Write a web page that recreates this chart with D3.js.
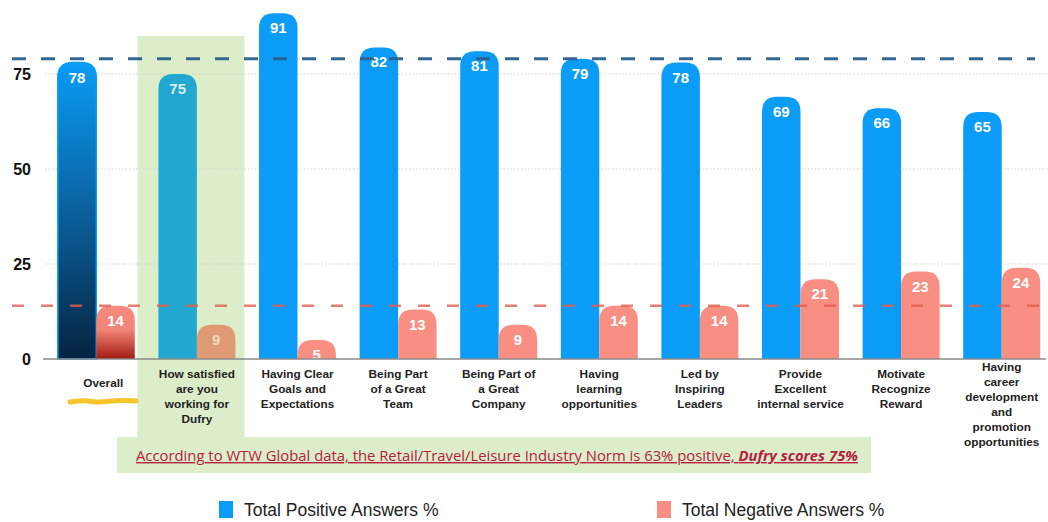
<!DOCTYPE html>
<html>
<head>
<meta charset="utf-8">
<script src="https://cdn.jsdelivr.net/npm/d3@7"></script>
<style>
  body { margin: 0; background: #fff; }
  svg { display: block; font-family: "Liberation Sans", Arial, sans-serif; }
</style>
</head>
<body>
<svg id="chart" width="1048" height="522"></svg>
<script>
// survey categories, one group of two bars each
const categories = [
    ['Overall'],
    ['How satisfied', 'are you', 'working for', 'Dufry'],
    ['Having Clear', 'Goals and', 'Expectations'],
    ['Being Part', 'of a Great', 'Team'],
    ['Being Part of', 'a Great', 'Company'],
    ['Having', 'learning', 'opportunities'],
    ['Led by', 'Inspiring', 'Leaders'],
    ['Provide', 'Excellent', 'internal service'],
    ['Motivate', 'Recognize', 'Reward'],
    ['Having', 'career', 'development', 'and', 'promotion', 'opportunities']
]
const positive = [78, 75, 91, 82, 81, 79, 78, 69, 66, 65]
const negative = [14, 9, 5, 13, 9, 14, 14, 21, 23, 24]
const seriesNames = ['Total Positive Answers %', 'Total Negative Answers %']
const yTicks = [0, 25, 50, 75]
const positiveNorm = 79
const negativeNorm = 14
const highlightIndex = 1
const noteText = 'According to WTW Global data, the Retail/Travel/Leisure Industry Norm is 63% positive, '
const noteBold = 'Dufry scores 75%'

const colors = {
    pos: '#0a9cf6',
    neg: '#f88f82',
    posHi: '#22a7d0',
    negHi: '#de9a72',
    green: '#dcedc9'
}

const svg = d3.select('#chart')
const defs = svg.append('defs')

const gradPos = defs.append('linearGradient').attr('id', 'gradPos')
    .attr('x1', 0).attr('x2', 0).attr('y1', 0).attr('y2', 1)
gradPos.append('stop').attr('offset', '0%').attr('stop-color', '#0a9cf6')
gradPos.append('stop').attr('offset', '55%').attr('stop-color', '#0a5b95')
gradPos.append('stop').attr('offset', '100%').attr('stop-color', '#052440')

const gradNeg = defs.append('linearGradient').attr('id', 'gradNeg')
    .attr('x1', 0).attr('x2', 0).attr('y1', 0).attr('y2', 1)
gradNeg.append('stop').attr('offset', '0%').attr('stop-color', '#f78a7e')
gradNeg.append('stop').attr('offset', '45%').attr('stop-color', '#f08476')
gradNeg.append('stop').attr('offset', '100%').attr('stop-color', '#a31a12')

const y = d3.scaleLinear().domain([0, 75]).range([359, 74])

const x = d3.scaleBand()
    .domain(d3.range(categories.length))
    .range([46, 1052])
    .paddingInner(0.235)
    .paddingOuter(0.1175)

const xSub = d3.scaleBand().domain([0, 1]).range([0, x.bandwidth()])

const rows = categories.map((c, i) => ({ i: i, label: c, vals: [positive[i], negative[i]] }))

// highlight box behind the "How satisfied" group
svg.append('rect')
    .attr('x', x(highlightIndex) - 21)
    .attr('y', 36)
    .attr('width', 107)
    .attr('height', 402)
    .attr('fill', colors.green)

// note box at the bottom
svg.append('rect')
    .attr('x', 117)
    .attr('y', 437)
    .attr('width', 754)
    .attr('height', 36)
    .attr('fill', colors.green)

// gridlines
svg.append('g').selectAll('line')
    .data(yTicks.filter(d => d > 0))
    .enter().append('line')
    .attr('x1', 45).attr('x2', 1048)
    .attr('y1', d => y(d)).attr('y2', d => y(d))
    .attr('stroke', '#cfcfcf')
    .attr('stroke-width', 1.2)
    .attr('stroke-dasharray', '1.5,2')

// y axis labels
svg.append('g').selectAll('text')
    .data(yTicks)
    .enter().append('text')
    .attr('x', 31)
    .attr('y', d => y(d) + 6)
    .attr('text-anchor', 'end')
    .attr('font-size', 16)
    .attr('font-weight', 'bold')
    .attr('fill', '#111')
    .text(d => d)

// rounded-top bar path
const barPath = (x0, w, top, bottom) => {
    const r = Math.min(15, bottom - top, w / 2)
    return `M${x0},${bottom} L${x0},${top + r} Q${x0},${top} ${x0 + r},${top} ` +
           `L${x0 + w - r},${top} Q${x0 + w},${top} ${x0 + w},${top + r} L${x0 + w},${bottom} Z`
}

const barFill = (d, s) => {
    if (d.i === 0) return s === 0 ? 'url(#gradPos)' : 'url(#gradNeg)'
    if (d.i === highlightIndex) return s === 0 ? colors.posHi : colors.negHi
    return s === 0 ? colors.pos : colors.neg
}

const group = svg.append('g').selectAll('g')
    .data(rows)
    .enter().append('g')
    .attr('transform', d => `translate(${x(d.i)},0)`)

group.selectAll('path')
    .data(d => d.vals.map((v, s) => ({ i: d.i, s: s, v: v })))
    .enter().append('path')
    .attr('d', d => barPath(xSub(d.s), xSub.bandwidth(), y(d.v), y(0)))
    .attr('fill', d => barFill(d, d.s))
    .attr('stroke', d => d.i === 0 && d.s === 0 ? colors.pos : 'none')
    .attr('stroke-width', 1.5)

group.selectAll('text.val')
    .data(d => d.vals.map((v, s) => ({ i: d.i, s: s, v: v })))
    .enter().append('text')
    .attr('class', 'val')
    .attr('x', d => xSub(d.s) + xSub.bandwidth() / 2)
    .attr('y', d => y(d.v) + 20)
    .attr('text-anchor', 'middle')
    .attr('font-size', 15)
    .attr('font-weight', 'bold')
    .attr('fill', d => d.i === highlightIndex ? (d.s === 0 ? '#d9f0f4' : '#f6dcc0') : '#fff')
    .text(d => d.v)

// baseline
svg.append('line')
    .attr('x1', 43).attr('x2', 1046)
    .attr('y1', y(0)).attr('y2', y(0))
    .attr('stroke', '#8a8a8a')
    .attr('stroke-width', 1.5)

// norm lines
svg.append('line')
    .attr('x1', 12).attr('x2', 1035)
    .attr('y1', y(positiveNorm)).attr('y2', y(positiveNorm))
    .attr('stroke', '#2b5f8e')
    .attr('stroke-width', 3)
    .attr('stroke-dasharray', '14,15')
    .attr('opacity', 0.95)

svg.append('line')
    .attr('x1', 12).attr('x2', 1046)
    .attr('y1', y(negativeNorm)).attr('y2', y(negativeNorm))
    .attr('stroke', '#e0604e')
    .attr('stroke-width', 2.5)
    .attr('stroke-dasharray', '12,17')
    .attr('opacity', 0.8)

// category labels
group.append('text')
    .attr('font-size', 11.8)
    .attr('font-weight', 'bold')
    .attr('fill', '#222')
    .attr('text-anchor', 'middle')
    .each(function (d) {
        const n = d.label.length
        const top = n === 1 ? 387 : (n > 4 ? 371 : 378)
        d3.select(this).selectAll('tspan')
            .data(d.label)
            .enter().append('tspan')
            .attr('x', x.bandwidth() / 2 + (d.i === 0 ? 7 : 0))
            .attr('y', (t, k) => top + k * 15)
            .text(t => t)
    })

// yellow highlighter scribble under "Overall"
svg.append('path')
    .attr('d', d3.line().curve(d3.curveBasis)([[70, 402], [85, 400], [100, 403], [115, 400], [136, 401]]))
    .attr('stroke', '#f5bf14')
    .attr('stroke-width', 5)
    .attr('stroke-linecap', 'round')
    .attr('fill', 'none')
    .attr('opacity', 0.9)

// note text
const note = svg.append('text')
    .attr('x', 136)
    .attr('y', 461)
    .attr('font-family', '"Open Sans", sans-serif')
    .attr('font-size', 14)
    .attr('fill', '#b3213e')
    .attr('text-decoration', 'underline')
    .attr('textLength', 722)
    .attr('lengthAdjust', 'spacingAndGlyphs')
note.append('tspan').text(noteText)
note.append('tspan').attr('font-weight', 'bold').attr('font-style', 'italic').text(noteBold)

// legend
const legendX = [219, 657]
const legend = svg.append('g').selectAll('g')
    .data(seriesNames)
    .enter().append('g')
    .attr('transform', (d, i) => `translate(${legendX[i]},501)`)

legend.append('rect')
    .attr('width', 14).attr('height', 17)
    .attr('fill', (d, i) => i === 0 ? colors.pos : colors.neg)

legend.append('text')
    .attr('x', 25)
    .attr('y', 15)
    .attr('font-size', 17.5)
    .attr('fill', '#222')
    .text(d => d)
</script>
</body>
</html>
